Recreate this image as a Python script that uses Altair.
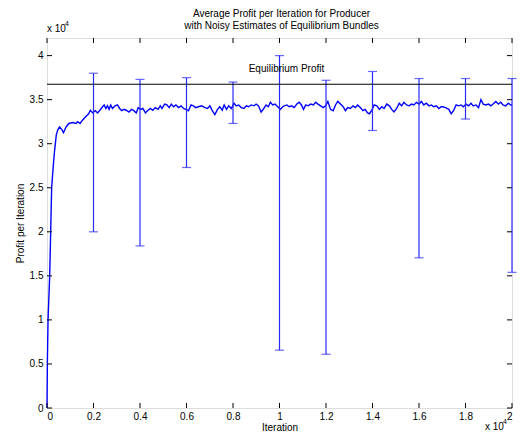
import altair as alt
import pandas as pd

# ---------------- data ----------------
iterations = [0, 15, 45, 115, 158, 200, 285, 330, 400, 470, 540, 640, 710, 820, 940, 1110, 1250, 1320,
              1420, 1535, 1675, 1790, 1865, 1960, 2080, 2175, 2275, 2390, 2460, 2530, 2600, 2670, 2740,
              2815, 2925, 3030, 3125, 3210, 3315, 3410, 3526, 3637, 3740, 3838, 3923, 4021, 4123, 4234,
              4349, 4447, 4550, 4661, 4776, 4874, 4946, 5061, 5159, 5258, 5343, 5445, 5543, 5658, 5769,
              5872, 5970, 6085, 6196, 6298, 6396, 6511, 6652, 6793, 6908, 7006, 7108, 7219, 7334, 7432,
              7535, 7620, 7718, 7816, 7931, 8046, 8144, 8242, 8357, 8473, 8571, 8669, 8784, 8899, 8997,
              9095, 9210, 9325, 9423, 9521, 9607, 9709, 9807, 9922, 10033, 10136, 10204, 10319, 10417,
              10519, 10630, 10745, 10843, 10946, 11031, 11129, 11227, 11342, 11457, 11555, 11653, 11769,
              11884, 11982, 12080, 12195, 12310, 12408, 12506, 12621, 12737, 12835, 12933, 13048, 13163,
              13261, 13359, 13474, 13589, 13687, 13786, 13871, 13973, 14071, 14186, 14297, 14400, 14498,
              14613, 14724, 14826, 14924, 15039, 15150, 15253, 15351, 15466, 15577, 15679, 15777, 15892,
              16003, 16105, 16203, 16318, 16429, 16532, 16630, 16745, 16856, 16958, 17026, 17141, 17282,
              17385, 17483, 17598, 17709, 17811, 17909, 18024, 18135, 18237, 18335, 18450, 18561, 18664,
              18762, 18877, 18988, 19090, 19188, 19303, 19414, 19516, 19614, 19730, 19845, 19947, 20000]
profits = [0, 5000, 10000, 15000, 20000, 25000, 28000, 29300, 31000, 31600, 31900, 31600, 31250, 31900,
           32300, 32400, 32300, 32500, 32300, 32700, 33100, 33400, 33800, 33500, 33750, 33500, 33800,
           34200, 34400, 34000, 34300, 33900, 34400, 34000, 34300, 34400, 34000, 33750, 33900, 33800,
           33600, 33900, 33750, 33500, 34100, 33900, 34000, 33500, 33800, 34000, 33800, 34100, 33900,
           34300, 34000, 34500, 34400, 34100, 34500, 34200, 34400, 34100, 34300, 34000, 33900, 33750,
           34400, 34300, 34100, 34200, 34300, 34100, 34000, 34300, 33750, 33300, 33900, 34200, 33800,
           34400, 33900, 34300, 34000, 34600, 34300, 34400, 34100, 34000, 34300, 34200, 34400, 34300,
           34500, 34300, 33600, 34000, 34400, 34200, 34700, 34400, 34500, 34200, 33900, 34200, 34300,
           34400, 34200, 34300, 34100, 34500, 34700, 34400, 33900, 34400, 34300, 34500, 34400, 34700,
           34500, 34300, 34100, 34300, 34800, 33900, 33750, 34400, 34800, 34500, 34200, 33750, 34100,
           34000, 34300, 34100, 34400, 34100, 33750, 33900, 33500, 33400, 33800, 34400, 34300, 33900,
           34200, 34000, 34500, 34300, 33900, 33600, 34000, 34600, 34300, 34700, 34400, 34300, 34500,
           34400, 34700, 34500, 34800, 34400, 34600, 34300, 34400, 34200, 34300, 34000, 34200, 34200,
           34100, 33900, 33400, 33750, 34400, 34300, 34400, 34200, 34500, 34300, 34600, 34300, 34400,
           34100, 35000, 34500, 34400, 34500, 34300, 34500, 34800, 34500, 34700, 34400, 34300, 34600,
           34400, 34400]

err_iter = [2000, 4000, 6000, 8000, 10000, 12000, 14000, 16000, 18000, 20000]
err_low = [20000, 18400, 27300, 32300, 6560, 6100, 31500, 17050, 32800, 15400]
err_high = [38000, 37300, 37500, 37000, 40000, 37200, 38200, 37400, 37400, 37400]

equilibrium_profit = [36750]
eq_label_iter = [10300]
eq_label_profit = [38500]
eq_label_text = ["Equilibrium Profit"]

x_ticks = [0, 2000, 4000, 6000, 8000, 10000, 12000, 14000, 16000, 18000, 20000]
y_ticks = [0, 5000, 10000, 15000, 20000, 25000, 30000, 35000, 40000]

title_lines = ["Average Profit per Iteration for Producer", "with Noisy Estimates of Equilibrium Bundles"]
x_title = "Iteration"
y_title = "Profit per Iteration"

# ---------------- chart ----------------
W, H = 465, 370
FONT = "Liberation Sans"
BLUE = "#0000ff"
ERR_BLUE = "#2a2aff"

xs = alt.Scale(domain=[0, 20000], nice=False, zero=False)
ys = alt.Scale(domain=[0, 42000], nice=False, zero=False)

lbl = "format(datum.value / 10000, '.1~f')"
X_AXIS = alt.Axis(values=x_ticks, labelExpr=lbl, ticks=False, tickSize=0, domain=False,
                  grid=False, title=x_title, labelPadding=3, titlePadding=1,
                  labelFontSize=10, titleFontSize=10, titleFontWeight="normal",
                  labelFont=FONT, titleFont=FONT, labelColor="black", titleColor="black")
Y_AXIS = alt.Axis(values=y_ticks, labelExpr=lbl, ticks=False, tickSize=0, domain=False,
                  grid=False, title=y_title, labelPadding=4, titlePadding=4,
                  labelFontSize=10, titleFontSize=10, titleFontWeight="normal",
                  labelFont=FONT, titleFont=FONT, labelColor="black", titleColor="black")

def X(f):
    return alt.X(f, scale=xs, axis=X_AXIS)

def Y(f):
    return alt.Y(f, scale=ys, axis=Y_AXIS)

line_df = pd.DataFrame({"Iteration": iterations, "Profit": profits})
err_df = pd.DataFrame({"it": err_iter, "lo": err_low, "hi": err_high})
cap_df = pd.DataFrame({"it": err_iter + err_iter, "v": err_low + err_high})
eq_df = pd.DataFrame({"eq": equilibrium_profit})
eqlab_df = pd.DataFrame({"it": eq_label_iter, "v": eq_label_profit, "t": eq_label_text})
xt_df = pd.DataFrame({"t": x_ticks})
yt_df = pd.DataFrame({"t": y_ticks})
one = pd.DataFrame({"a": [0]})

line = alt.Chart(line_df).mark_line(color=BLUE, strokeWidth=1.4).encode(
    x=X("Iteration:Q"), y=Y("Profit:Q"))

eq_rule = alt.Chart(eq_df).mark_rule(color="black", strokeWidth=1).encode(y=Y("eq:Q"))

err_rule = alt.Chart(err_df).mark_rule(color=ERR_BLUE, strokeWidth=1.2).encode(
    x=X("it:Q"), y=Y("lo:Q"), y2="hi:Q")

caps = alt.Chart(cap_df).mark_tick(color=ERR_BLUE, orient="horizontal", size=9, thickness=1.2).encode(
    x=X("it:Q"), y=Y("v:Q"))

eq_text = alt.Chart(eqlab_df).mark_text(font=FONT, fontSize=10, color="black").encode(
    x=X("it:Q"), y=Y("v:Q"), text="t:N")

tick_kw = dict(color="black", strokeWidth=1)
xb = alt.Chart(xt_df).mark_rule(**tick_kw).encode(x=X("t:Q"), y=alt.value(H), y2=alt.value(H - 5))
xt = alt.Chart(xt_df).mark_rule(**tick_kw).encode(x=X("t:Q"), y=alt.value(0), y2=alt.value(5))
yl = alt.Chart(yt_df).mark_rule(**tick_kw).encode(y=Y("t:Q"), x=alt.value(0), x2=alt.value(5))
yr = alt.Chart(yt_df).mark_rule(**tick_kw).encode(y=Y("t:Q"), x=alt.value(W), x2=alt.value(W - 5))

def text_at(txt, x0, y0, size=10, align="left"):
    return alt.Chart(one).mark_text(font=FONT, fontSize=size, color="black", align=align,
                                    baseline="middle").encode(
        x=alt.value(x0), y=alt.value(y0), text=alt.value(txt))

def exp_label(x0, y0):
    return text_at("x 10", x0, y0) + text_at("4", x0 + 18, y0 - 5, size=7)

title1 = text_at(title_lines[0], W / 2 + 2, -24.5, align="center")
title2 = text_at(title_lines[1], W / 2 + 2, -12.5, align="center")

chart = alt.layer(
    line, err_rule, caps, eq_rule, eq_text, xb, xt, yl, yr,
    exp_label(0, -9), exp_label(W - 27, 389), title1, title2
).properties(
    width=W, height=H,
    autosize=alt.AutoSizeParams(type="none"),
    padding={"left": 39, "top": 30, "right": 6, "bottom": 24},
).configure_view(stroke="black", strokeWidth=1).configure(background="white")

chart.save("out.html", embed_options={"renderer": "svg", "actions": False})
